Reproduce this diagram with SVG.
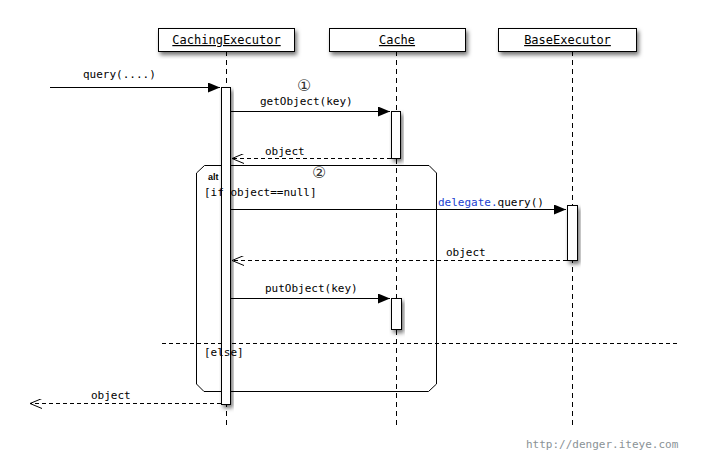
<svg xmlns="http://www.w3.org/2000/svg" width="701" height="472" viewBox="0 0 701 472">
<defs>
<filter id="sh" x="-20%" y="-20%" width="150%" height="150%">
<feDropShadow dx="2" dy="3" stdDeviation="2" flood-color="#000" flood-opacity="0.55"/>
</filter>
<marker id="fill" markerWidth="12" markerHeight="10" refX="12" refY="5" orient="auto" markerUnits="userSpaceOnUse">
<path d="M0,0 L12,5 L0,10 Z" fill="#000"/>
</marker>
<marker id="open" markerWidth="12" markerHeight="10" refX="12" refY="5" orient="auto" markerUnits="userSpaceOnUse">
<path d="M0,0 L12,5 L0,10" fill="none" stroke="#000" stroke-width="1"/>
</marker>
</defs>
<style>
text{font-family:"DejaVu Sans Mono","Liberation Mono",monospace;font-size:11px;fill:#000}
.hdr{font-size:12px;text-decoration:underline;text-anchor:middle}
.box{fill:#fff;stroke:#000;stroke-width:1}
.life{stroke:#000;stroke-width:1;stroke-dasharray:5,4;fill:none}
.act{fill:#fff;stroke:#000;stroke-width:1}
.msg{stroke:#000;stroke-width:1;fill:none;marker-end:url(#fill)}
.ret{stroke:#000;stroke-width:1;fill:none;stroke-dasharray:4,3;marker-end:url(#open)}
.frame{fill:none;stroke:#000;stroke-width:1}
.num{font-family:"DejaVu Sans",sans-serif;font-size:16px;fill:#333}
</style>
<rect width="701" height="472" fill="#fff"/>
<g id="lifelines">
<line class="life" x1="226.5" y1="51" x2="226.5" y2="425"/>
<line class="life" x1="396.5" y1="51" x2="396.5" y2="425"/>
<line class="life" x1="572.5" y1="51" x2="572.5" y2="425"/>
</g>
<g id="CachingExecutor">
<rect class="box" x="158.5" y="28.5" width="136" height="23" filter="url(#sh)"/>
<text class="hdr" x="226.5" y="44">CachingExecutor</text>
</g>
<g id="Cache">
<rect class="box" x="329.5" y="28.5" width="136" height="23" filter="url(#sh)"/>
<text class="hdr" x="397" y="44">Cache</text>
</g>
<g id="BaseExecutor">
<rect class="box" x="498.5" y="28.5" width="138" height="23" filter="url(#sh)"/>
<text class="hdr" x="567.5" y="44">BaseExecutor</text>
</g>
<g id="alt-frame">
<path class="frame" d="M196.5,173 L204.5,165.5 L429,165.5 L436.5,173 L436.5,384 L428.5,391.5 L204,391.5 L196.5,384 Z"/>
<text x="208" y="180" style="font-family:'Liberation Sans',Arial,sans-serif;font-weight:bold;font-size:9px">alt</text>
<line x1="162" y1="343.5" x2="680" y2="343.5" stroke="#000" stroke-dasharray="4,3"/>
</g>
<g id="activations">
<rect class="act" x="221.5" y="87.5" width="9" height="317" filter="url(#sh)"/>
<rect class="act" x="391.5" y="111.5" width="9" height="47" filter="url(#sh)"/>
<rect class="act" x="567.5" y="205.5" width="10" height="55" filter="url(#sh)"/>
<rect class="act" x="391.5" y="298.5" width="10" height="31" filter="url(#sh)"/>
</g>
<g id="connectors">
<line class="msg" x1="50" y1="87.5" x2="220" y2="87.5"/>
<line class="msg" x1="231" y1="111.5" x2="390" y2="111.5"/>
<line class="ret" x1="391" y1="158.5" x2="232" y2="158.5"/>
<line class="msg" x1="231" y1="209.5" x2="566" y2="209.5"/>
<line class="ret" x1="567" y1="260.5" x2="232" y2="260.5"/>
<line class="msg" x1="231" y1="298.5" x2="390" y2="298.5"/>
<line class="ret" x1="221" y1="403.5" x2="30" y2="403.5"/>
</g>
<g id="labels">
<text x="83" y="78">query(....)</text>
<text class="num" x="297" y="91">①</text>
<text x="260" y="105">getObject(key)</text>
<text x="265" y="155">object</text>
<text class="num" x="312" y="178">②</text>
<text x="204" y="196">[if object==null]</text>
<text x="438" y="206"><tspan fill="#1a3fd0">delegate.</tspan>query()</text>
<text x="446" y="256">object</text>
<text x="265" y="292">putObject(key)</text>
<text x="204" y="356">[else]</text>
<text x="91" y="399">object</text>
<text x="526" y="448" style="fill:#8a9296">http://denger.iteye.com</text>
</g>
</svg>
